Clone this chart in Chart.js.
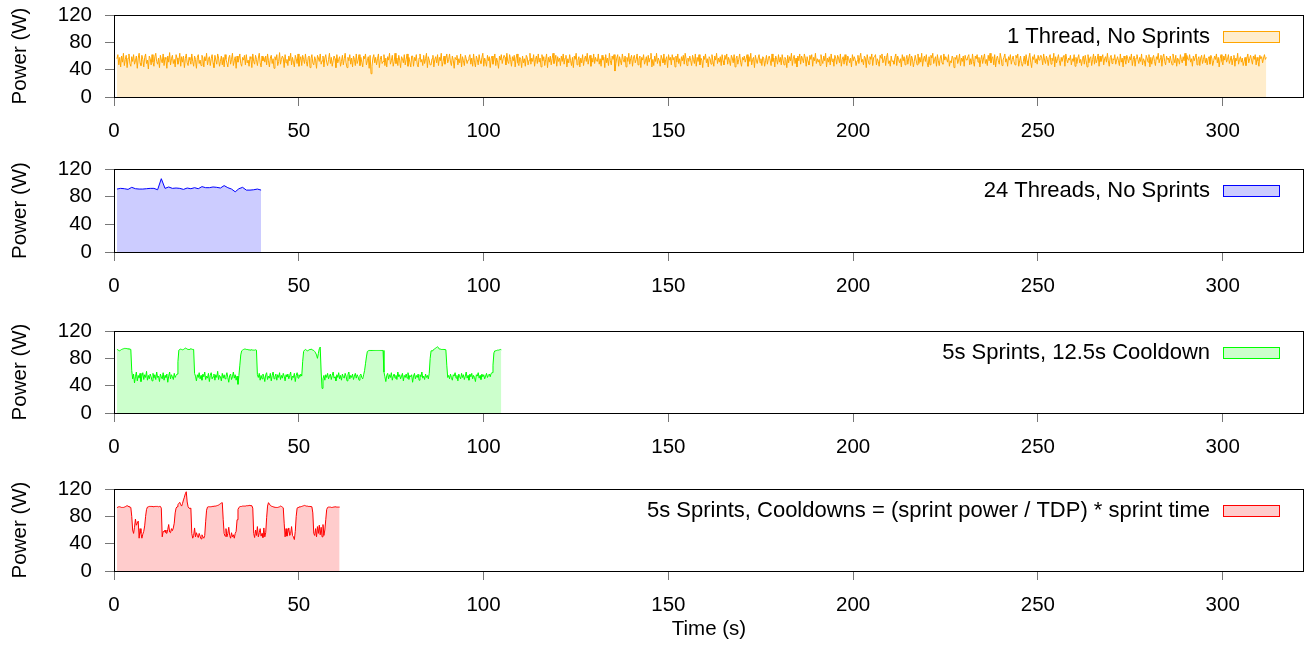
<!DOCTYPE html>
<html>
<head>
<meta charset="utf-8">
<title>Power traces</title>
<script src="https://cdn.jsdelivr.net/npm/chart.js@4.4.1/dist/chart.umd.min.js"></script>
<style>
  body { margin: 0; background: #fff; width: 1305px; height: 655px; overflow: hidden; position: relative; }
  canvas { position: absolute; left: 0; }
</style>
</head>
<body>
<canvas id="panel1" width="1305" height="162" style="top:-15px"></canvas>
<canvas id="panel2" width="1305" height="163" style="top:139px"></canvas>
<canvas id="panel3" width="1305" height="162" style="top:301px"></canvas>
<canvas id="panel4" width="1305" height="186" style="top:459px"></canvas>
<script>
// ====== data ======
const timeTicks = [0, 50, 100, 150, 200, 250, 300];
const powerTicks = [0, 40, 80, 120];
const timeMax = 322;
const startTime = 0.8; // seconds, first sample

const seriesLabels = [
  '1 Thread, No Sprints',
  '24 Threads, No Sprints',
  '5s Sprints, 12.5s Cooldown',
  '5s Sprints, Cooldowns = (sprint power / TDP) * sprint time'
];

// sample spacing of each trace, seconds
const sampleSteps = [0.25, 1, 0.25, 0.25];

// 1 thread, no sprints
const oneThreadPower = [
  56,62,47,58,44,60,51,64,46,55,61,43,57,63,49,45,59,52,62,48,
  53,60,42,57,64,50,46,61,55,44,58,63,49,54,41,60,56,47,62,51,
  45,59,64,52,48,57,43,61,54,50,63,46,58,55,42,60,51,65,47,56,
  61,49,55,44,62,57,48,53,64,45,59,51,60,43,56,63,50,46,58,54,
  48,63,52,45,60,55,42,58,62,49,54,46,61,57,44,59,53,64,47,55,
  59,46,56,62,50,43,61,54,48,63,57,45,52,60,47,58,44,62,55,50,
  44,57,61,48,55,64,46,53,59,42,60,51,56,63,49,45,58,54,61,47,
  62,50,54,45,59,56,43,63,52,48,61,55,46,57,64,50,44,60,53,58,
  51,60,47,63,53,44,57,61,49,56,42,59,54,62,46,52,65,48,55,60,
  57,43,62,50,55,46,60,53,64,47,58,51,44,61,56,49,63,45,54,59,
  46,61,55,49,63,52,45,58,60,43,56,62,50,47,59,54,42,61,57,52,
  63,48,53,60,44,57,62,51,46,55,64,49,58,45,53,60,56,43,62,50,
  55,59,45,52,61,47,56,64,50,43,58,53,62,48,57,44,60,55,46,63,
  49,54,62,46,58,51,44,60,56,63,47,53,59,42,61,34,45,57,62,50,
  58,47,56,63,43,55,60,49,52,62,46,57,44,59,54,64,48,53,61,45,
  52,64,49,57,46,61,54,43,59,56,50,62,47,55,63,45,58,51,44,60,
  60,45,58,53,62,48,44,57,63,51,55,46,61,49,56,64,43,59,54,47,
  47,56,61,44,55,59,50,62,46,58,53,64,45,52,60,48,57,63,50,55,
  63,51,46,60,54,42,58,55,61,47,56,50,63,44,59,53,46,61,56,49,
  54,58,62,48,57,45,63,51,44,60,55,47,62,53,49,58,64,45,57,52,
  45,61,53,59,43,56,60,48,55,63,46,57,51,42,60,54,62,49,56,61,
  58,47,64,52,49,62,55,45,59,53,61,44,57,63,50,46,58,55,43,60,
  50,56,45,61,58,47,54,64,48,57,52,62,45,55,60,49,63,51,57,44,
  62,53,59,46,55,63,43,58,51,60,47,56,64,49,54,61,45,59,52,57,
  46,60,52,63,48,57,61,44,56,50,62,53,46,58,43,60,55,64,47,54,
  59,44,57,50,62,46,55,60,52,64,48,56,61,45,57,51,63,49,58,53,
  52,63,48,56,45,61,54,58,43,62,50,57,46,64,53,47,60,55,62,38,
  49,57,62,45,59,53,47,63,55,51,60,44,58,52,64,48,56,61,45,57,
  61,50,55,63,47,56,60,43,58,54,62,48,53,59,46,61,51,57,64,44,
  55,46,60,52,64,49,57,53,45,61,56,50,63,47,55,59,43,62,54,58,
  47,62,54,58,44,60,51,63,49,56,45,59,53,61,48,64,56,46,57,52,
  60,53,46,61,55,49,63,45,58,52,62,47,57,54,43,60,55,63,50,56,
  44,59,56,48,62,53,45,60,54,64,49,57,51,59,46,62,53,47,61,55,
  63,48,58,53,46,61,57,50,62,44,56,60,48,55,63,51,45,58,54,60,
  51,56,62,45,59,52,64,47,55,58,43,61,54,49,57,62,50,56,46,59,
  57,45,53,61,48,56,60,54,46,63,52,57,44,60,55,48,62,51,58,47,
  62,54,47,58,55,43,61,50,59,53,64,46,56,61,49,57,44,60,53,63,
  48,60,56,50,63,57,45,59,52,47,61,55,62,45,58,53,64,49,56,51,
  55,46,62,54,49,60,53,64,44,57,51,59,47,63,52,56,45,61,57,48,
  61,57,50,63,45,55,59,48,62,54,46,60,56,50,57,44,62,53,59,55,
  46,53,61,49,58,64,51,55,47,60,57,43,62,54,48,59,55,63,46,58,
  59,62,47,56,52,45,61,57,63,50,54,60,46,58,64,49,53,45,60,52,
  53,48,58,63,46,60,55,50,56,44,62,53,59,47,55,61,48,57,63,46,
  60,56,44,52,61,54,47,63,49,58,51,64,45,56,60,52,62,50,44,59,
  47,61,57,64,49,55,59,45,62,53,46,57,61,50,48,63,54,59,56,51,
  62,45,53,50,60,57,43,58,55,61,49,54,63,46,57,52,60,45,61,55,
  54,59,62,47,56,48,63,52,45,60,56,62,51,58,44,55,61,49,57,63,
  49,55,46,61,53,64,50,57,59,47,62,44,56,60,53,48,64,57,46,54,
  58,63,51,56,45,59,54,62,48,55,60,52,47,61,57,63,45,53,60,49,
  45,52,60,48,62,53,46,57,64,51,43,59,55,62,50,56,48,61,54,58,
  61,57,47,63,54,49,60,55,46,58,62,48,57,53,64,44,59,50,56,62,
  53,46,58,52,59,61,45,63,55,50,57,54,61,47,56,52,62,45,58,49,
  57,62,50,55,46,56,60,48,61,53,44,62,50,57,59,46,55,63,48,60,
  50,55,63,45,60,52,57,62,47,56,59,51,64,53,45,58,61,49,56,54,
  62,48,54,59,53,46,63,51,57,44,60,55,48,61,56,50,59,54,63,46,
  55,60,45,57,62,55,49,58,52,63,47,56,53,45,61,57,51,62,44,58,
  48,57,61,52,46,59,55,64,50,56,61,45,58,63,52,47,60,55,57,50,
  60,53,47,63,56,50,61,45,57,54,48,62,55,50,59,53,64,46,61,55,
  54,62,51,56,45,60,53,58,63,47,55,59,46,57,61,49,55,62,50,57,
  47,56,59,48,61,57,46,53,60,55,63,50,58,44,56,62,52,47,60,54,
  63,51,55,62,49,54,60,47,56,61,45,57,53,64,48,55,59,51,57,46,
  52,58,46,57,63,50,56,61,54,48,60,55,62,47,58,53,45,61,56,59,
  50,57,62,55,58
];

// 24 threads, no sprints
const allThreadsPower = [
  91,92,91.5,90.5,93.5,91.5,91,91,91.5,92,92,90,106,92,94,92,92.5,92,90.5,92.5,
  91.5,93,91.5,94.5,93,93,94,93.5,92.5,96,93,91,87,91.5,93.5,89.5,89.5,90,91,89.5
];

// 5 s sprints, 12.5 s cooldown
const fixedCooldownPower = [
  93,92.5,91.5,91,92,93,93.5,94,94.5,94.5,94.5,94,94,93.5,93.5,93,
  62,
  50,57,44,53,60,47,55,51, 58,46,54,59,49,56,52,61, 48,55,50,57,53,47,58,51,
  56,49,60,52,54,46,57,53, 50,59,48,55,52,57,45,54, 60,50,56,53,49,58,52,55, 57,
  75,92,
  93,93.5,93,92.5,93,94,95,94.5,93.5,93,93,93.5,94,93.5,93,93,
  58,
  54,47,56,52,59,50,55,48, 57,53,60,49,54,51,58,46, 55,59,50,53,57,48,56,52,
  61,49,55,53,47,58,51,56, 50,54,59,52,45,55,57,49, 53,60,51,56,48,54,42,55,
  70,85,91,
  92,93,93.5,93.5,93,93,92.5,92.5,92,92.5,92.5,92,92,92,92.5,92,
  56,
  52,58,48,55,50,57,53,46, 56,59,49,54,51,58,47,55, 60,50,53,57,48,56,52,59,
  49,55,51,58,54,47,56,53, 57,50,55,60,48,54,52,58, 46,55,59,51,56,53,57,54,
  75,90,
  92,93,92,91,91.5,92.5,93,93.5,93,92,91.5,90,88,85,80,87,94,96.5,
  60,36,50,
  55,48,56,52,58,50,54,57, 49,55,60,51,53,47,56,52, 59,50,55,48,57,53,51,58,
  54,47,56,60,50,55,52,57, 49,54,58,51,56,53,48,55, 57,52,50,56,
  62,72,82,90,
  91,91.5,91.5,91.5,91.5,91.5,91.5,91.5,91.5,91.5,91.5,91.5,91.5,91.5,91.5,91.5,91.5,
  60,
  53,46,55,58,50,56,52,59, 48,54,57,51,55,49,60,53, 56,50,54,58,47,55,52,57,
  51,59,49,55,53,56,45,54, 58,50,55,52,57,48,56,53, 60,51,54,49,57,52,55,50,
  58,80,91,
  91,92,93,94,95,96,97,95.5,93.5,93.5,93,93,93,93,93,92.5,
  70,52,
  55,50,57,52,48,56,54,59, 51,55,47,57,53,50,58,52, 56,49,54,60,51,55,48,57,
  53,58,50,55,52,46,56,54, 59,51,55,49,57,53,56,50, 54,58,52,55,57,53,58,59,
  70,88,91,
  91,91.5,92,92,92.5,93,92.5
];

// 5 s sprints, cooldown = (sprint power / TDP) * sprint time
const scaledCooldownPower = [
  92.5,93.5,94,94,93.5,93,93,93,93.5,94,95,95.5,95,94,93.5,93,
  80,60,55,64,76,67,70,73,48,62,55,48,54,58,66,80,90,93.5,
  94,94.5,94.5,94.5,94.5,94.5,94,94.5,94.5,94.5,94.5,94,94.5,94.5,
  92,50,
  58,57,60,56,55,61,68,57,56,62,59,63,
  70,85,92,
  94,97,99,100.5,97,95,99,104,108,113,116,101,94,92,91.5,92,
  55,
  48,52,63,50,56,52,49,55,51,47,53,50,48,52,
  72,89,
  93.5,94,94,94,94,94.5,94.5,94.5,95,95,95.5,96,96.5,97.5,98.5,99.5,
  100,75,55,
  51,62,50,55,64,52,48,56,50,53,48,55,58,
  75,90,
  93,94,94.5,94.5,95,95,95,95,95.5,95.5,95.5,96,96,95.5,95.5,
  92,55,
  49,60,52,65,50,56,62,51,55,49,63,50,56,
  78,95,
  100,98,96,95,94.5,94,93.5,93.5,93,93,93,93.5,94,95,94.5,93.5,92.5,
  70,50,
  62,51,57,63,52,55,65,52,50,46,58,
  80,92,
  93,93.5,94,94,94.5,95,95.5,96,95.5,95,95,94.5,94.5,94.5,94.5,94,
  85,55,
  52,62,50,65,55,67,53,64,50,68,52,60,
  75,90,
  93,93.5,93.5,93.5,93,93,93.5,93.5,94,94,93.5,93.5,93.5,93.5
];

const seriesValues = [oneThreadPower, allThreadsPower, fixedCooldownPower, scaledCooldownPower];

// ====== look ======
const lineColors = ['#ffa500', '#0000ff', '#00ff00', '#ff0000'];
const fillColors = ['rgba(255,165,0,0.2)', 'rgba(0,0,255,0.2)', 'rgba(0,255,0,0.2)', 'rgba(255,0,0,0.2)'];
const canvasIds = ['panel1', 'panel2', 'panel3', 'panel4'];

const fontFamily = "'Liberation Sans', Arial, sans-serif";
Chart.defaults.font.family = fontFamily;
Chart.defaults.font.size = 20.5;
Chart.defaults.color = '#000';

const axisFont = { family: fontFamily, size: 20.5 };

// box around the plot + the key in the top right corner
const frameAndKey = {
  id: 'frameAndKey',
  afterDraw(chart) {
    const { ctx, chartArea: a } = chart;
    const ds = chart.data.datasets[0];
    ctx.save();
    ctx.strokeStyle = '#000';
    ctx.lineWidth = 1;
    ctx.strokeRect(Math.round(a.left) + 0.5, Math.round(a.top) + 0.5,
                   Math.round(a.right - a.left) - 1, Math.round(a.bottom - a.top));

    const boxW = 57, boxH = 12;
    const boxX = Math.round(a.right) - 24 - boxW;
    const boxY = Math.round(a.top) + 16;
    ctx.fillStyle = ds.backgroundColor;
    ctx.fillRect(boxX, boxY, boxW, boxH);
    ctx.strokeStyle = ds.borderColor;
    ctx.strokeRect(boxX + 0.5, boxY + 0.5, boxW - 1, boxH - 1);

    ctx.fillStyle = '#000';
    ctx.font = '22px ' + fontFamily;
    ctx.textAlign = 'right';
    ctx.textBaseline = 'middle';
    ctx.fillText(ds.label, boxX - 13, boxY + boxH / 2);
    ctx.restore();
  }
};

function toPoints(values, step) {
  return values.map((v, i) => ({ x: +(startTime + i * step).toFixed(2), y: v }));
}

function makePanel(n) {
  const isLast = n === 3;
  return new Chart(document.getElementById(canvasIds[n]), {
    type: 'line',
    data: {
      datasets: [{
        label: seriesLabels[n],
        data: toPoints(seriesValues[n], sampleSteps[n]),
        borderColor: lineColors[n],
        backgroundColor: fillColors[n],
        borderWidth: 1,
        pointRadius: 0,
        tension: 0,
        fill: 'origin'
      }]
    },
    options: {
      responsive: false,
      animation: false,
      events: [],
      layout: { padding: { top: 30, right: 1, left: 0, bottom: 0 } },
      plugins: { legend: { display: false }, tooltip: { enabled: false } },
      scales: {
        x: {
          type: 'linear',
          min: 0,
          max: timeMax,
          afterBuildTicks: s => { s.ticks = timeTicks.map(v => ({ value: v })); },
          afterFit: s => { s.height = isLast ? 74 : 50; },
          grid: { drawOnChartArea: false, tickLength: 9, color: '#777' },
          border: { display: false },
          ticks: { padding: 13, font: axisFont, color: '#000', maxRotation: 0, autoSkip: false },
          title: { display: isLast, text: 'Time (s)', font: axisFont, color: '#000', padding: { top: 0, bottom: 3 } }
        },
        y: {
          min: 0,
          max: 120,
          afterBuildTicks: s => { s.ticks = powerTicks.map(v => ({ value: v })); },
          afterFit: s => { s.width = 114; },
          grid: { drawOnChartArea: false, tickLength: 9, color: '#777' },
          border: { display: false },
          ticks: { padding: 13, font: axisFont, color: '#000', autoSkip: false },
          title: { display: true, text: 'Power (W)', font: axisFont, color: '#000', padding: { top: 8, bottom: 0 } }
        }
      }
    },
    plugins: [frameAndKey]
  });
}

for (let n = 0; n < 4; n++) makePanel(n);
</script>
</body>
</html>
